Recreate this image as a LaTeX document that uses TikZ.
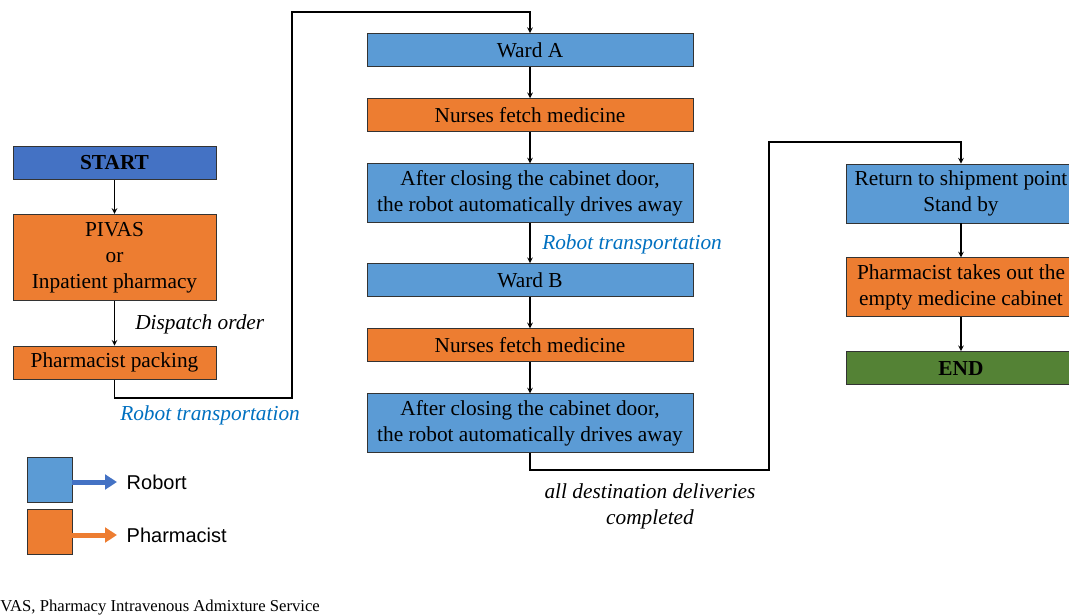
\documentclass[tikz,border=0pt]{standalone}
\usepackage{fontspec}
\setmainfont{Liberation Serif}
\newfontfamily\legendfont{Liberation Sans}
\usetikzlibrary{arrows, arrows.meta, positioning}
\definecolor{robotblue}{HTML}{5B9BD5}
\definecolor{startblue}{HTML}{4472C4}
\definecolor{pharmorange}{HTML}{ED7D31}
\definecolor{endgreen}{HTML}{548235}
\definecolor{transblue}{HTML}{0070C0}
\newcommand{\boxfont}{\fontsize{16}{19.5}\selectfont}
\tikzstyle{robotbox} = [rectangle, minimum height=24.75pt, inner sep=2pt, text centered, align=center, draw=black!80, line width=0.6pt, fill=robotblue, font=\boxfont]
\tikzstyle{pharmbox} = [robotbox, fill=pharmorange]
\tikzstyle{startbox} = [robotbox, fill=startblue, font=\boxfont\bfseries]
\tikzstyle{endbox} = [robotbox, fill=endgreen, font=\boxfont\bfseries]
\tikzstyle{leftw} = [minimum width=152.25pt]
\tikzstyle{midw} = [minimum width=244.5pt]
\tikzstyle{rightw} = [minimum width=172.5pt]
\tikzstyle{arrow} = [line width=0.9pt,->,>=stealth]
\tikzstyle{note} = [inner sep=0pt, font=\boxfont\itshape]
\tikzstyle{transnote} = [note, text=transblue]
\tikzstyle{legarrow} = [line width=3.75pt, -{Triangle[length=9pt,width=11pt]}, shorten >=3.75pt]
\tikzstyle{legtext} = [anchor=west, font=\legendfont\fontsize{15}{18}\selectfont]

\begin{document}
\begin{tikzpicture}[x=0.75pt, y=-0.75pt, node distance=23.5pt]
\useasboundingbox (0,0) rectangle (1069,614);
\clip (0,0) rectangle (1069,614);

% left column
\node (start) [startbox, leftw] at (114.5,163) {START};
\node (pivas) [pharmbox, leftw, minimum height=64.5pt, below=25.5pt of start] {PIVAS\\or\\Inpatient pharmacy};
\node (pack) [pharmbox, leftw, below=33.75pt of pivas] {Pharmacist packing};

% middle column
\node (wardA) [robotbox, midw] at (530,50) {Ward A};
\node (fetchA) [pharmbox, midw, below=of wardA] {Nurses fetch medicine};
\node (leaveA) [robotbox, midw, minimum height=44.25pt, below=of fetchA] {After closing the cabinet door,\\the robot automatically drives away};
\node (wardB) [robotbox, midw, below=30pt of leaveA] {Ward B};
\node (fetchB) [pharmbox, midw, below=of wardB] {Nurses fetch medicine};
\node (leaveB) [robotbox, midw, minimum height=44.25pt, below=of fetchB] {After closing the cabinet door,\\the robot automatically drives away};

% right column
\node (ret) [robotbox, rightw, minimum height=44.25pt] at (961,193.5) {Return to shipment point\\Stand by};
\node (takeout) [pharmbox, rightw, minimum height=44.25pt, below=25.5pt of ret] {Pharmacist takes out the\\empty medicine cabinet};
\node (stop) [endbox, rightw, below=25.5pt of takeout] {END};

% bends
\coordinate (bendA) at (292,398);
\coordinate (bendB) at (292,12);
\coordinate (bendC) at (769,470);
\coordinate (bendD) at (769,142);

\draw [arrow] (start) -- (pivas);
\draw [arrow] (pivas) -- (pack);
\draw [arrow] (pack.south) |- (bendA) -- (bendB) -| (wardA.north);
\draw [arrow] (wardA) -- (fetchA);
\draw [arrow] (fetchA) -- (leaveA);
\draw [arrow] (leaveA) -- (wardB);
\draw [arrow] (wardB) -- (fetchB);
\draw [arrow] (fetchB) -- (leaveB);
\draw [arrow] (leaveB.south) |- (bendC) -- (bendD) -| (ret.north);
\draw [arrow] (ret) -- (takeout);
\draw [arrow] (takeout) -- (stop);

% labels
\node (dispatch) [note, anchor=west] at (135,324) {Dispatch order};
\node (trans1) [transnote, anchor=west] at (120,415) {Robot transportation};
\node (trans2) [transnote, anchor=west] at (542,244) {Robot transportation};
\node (done) [note, align=center] at (650,506) {all destination deliveries\\completed};

% legend
\node (legRobot) [robotbox, minimum size=33.75pt] at (49.5,479.5) {};
\node (legRobotText) [legtext] at (122,482) {Robort};
\draw [legarrow, startblue] (legRobot.east |- legRobotText.west) -- (legRobotText.west);
\node (legPharm) [pharmbox, minimum size=33.75pt] at (49.5,531.5) {};
\node (legPharmText) [legtext] at (122,535) {Pharmacist};
\draw [legarrow, pharmorange] (legPharm.east |- legPharmText.west) -- (legPharmText.west);

\node (foot) [anchor=base west, inner sep=0pt, font=\fontsize{12.5}{15}\selectfont] at (0,611) {VAS, Pharmacy Intravenous Admixture Service};
\end{tikzpicture}
\end{document}
